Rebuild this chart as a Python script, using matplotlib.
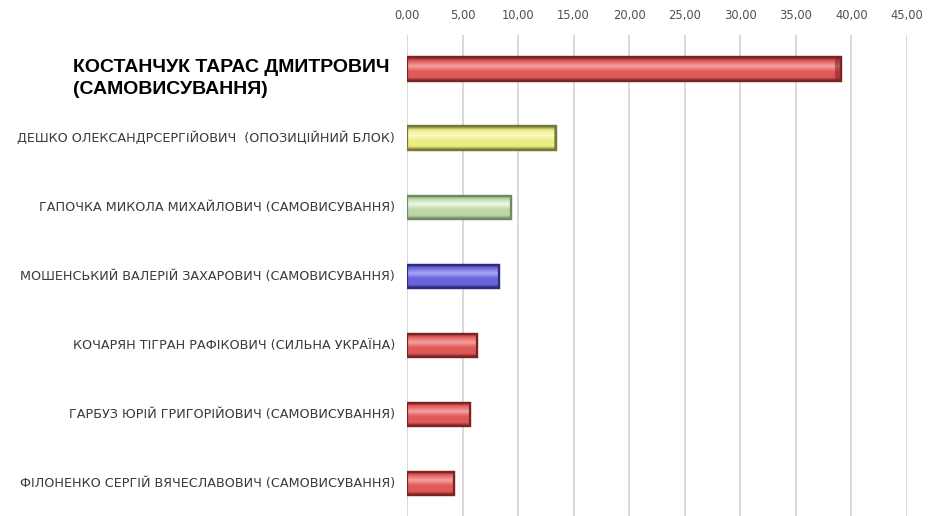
import numpy as np
import matplotlib
matplotlib.use("Agg")
import matplotlib.pyplot as plt
from matplotlib.colors import LinearSegmentedColormap
from matplotlib.ticker import FuncFormatter

# data
candidates = [
    "КОСТАНЧУК ТАРАС ДМИТРОВИЧ\n(САМОВИСУВАННЯ)",
    "ДЕШКО ОЛЕКСАНДРСЕРГІЙОВИЧ  (ОПОЗИЦІЙНИЙ БЛОК)",
    "ГАПОЧКА МИКОЛА МИХАЙЛОВИЧ (САМОВИСУВАННЯ)",
    "МОШЕНСЬКИЙ ВАЛЕРІЙ ЗАХАРОВИЧ (САМОВИСУВАННЯ)",
    "КОЧАРЯН ТІГРАН РАФІКОВИЧ (СИЛЬНА УКРАЇНА)",
    "ГАРБУЗ ЮРІЙ ГРИГОРІЙОВИЧ (САМОВИСУВАННЯ)",
    "ФІЛОНЕНКО СЕРГІЙ ВЯЧЕСЛАВОВИЧ (САМОВИСУВАННЯ)",
]
percent = [39.1, 13.4, 9.4, 8.3, 6.3, 5.7, 4.2]
x_ticks = [0, 5, 10, 15, 20, 25, 30, 35, 40, 45]

# (edge, base, highlight) per bar
bar_styles = [
    ("#7a2424", "#e05a5a", "#f7a0a0"),
    ("#77773a", "#ecec82", "#fbfbc8"),
    ("#6f8a60", "#bcd8a8", "#eef8e4"),
    ("#2c2c7a", "#6b64dc", "#aaa6f4"),
    ("#7a2424", "#e05a5a", "#f7a0a0"),
    ("#7a2424", "#e05a5a", "#f7a0a0"),
    ("#7a2424", "#e05a5a", "#f7a0a0"),
]

plt.rcParams["font.family"] = ["DejaVu Sans"]

fig = plt.figure(figsize=(9.38, 5.16), dpi=100)
ax = fig.add_axes([0.4339, -0.004, 0.533, 0.937])

ypos = np.arange(len(candidates))
bar_h = 0.34
bars = ax.barh(ypos, percent, height=bar_h, zorder=3)

for rect, (edge, base, hi) in zip(bars, bar_styles):
    rect.set_facecolor(base)
    rect.set_edgecolor(edge)
    rect.set_linewidth(1.6)
    cmap = LinearSegmentedColormap.from_list(
        "g", [(0.0, edge), (0.15, base), (0.38, hi), (0.6, base), (0.85, base), (1.0, edge)]
    )
    x0, y0 = rect.get_x(), rect.get_y()
    w, h = rect.get_width(), rect.get_height()
    grad = np.linspace(0, 1, 64).reshape(-1, 1)
    im = ax.imshow(grad, cmap=cmap, aspect="auto", extent=(x0, x0 + w, y0 + h, y0),
                   zorder=3, interpolation="bilinear")
    im.set_clip_path(rect)
    # darker bevel at the bar end
    ax.barh(rect.get_y() + h / 2, w * 0.015, left=x0 + w * 0.985, height=h,
            color=edge, alpha=0.55, zorder=4, linewidth=0)
    ax.add_patch(plt.Rectangle((x0, y0), w, h, fill=False, edgecolor=edge,
                               linewidth=1.6, zorder=5))

ax.set_xlim(0, 45)
ax.set_ylim(len(candidates) - 0.5, -0.5)
ax.set_xticks(x_ticks)
ax.xaxis.set_major_formatter(FuncFormatter(lambda v, p: f"{v:.2f}".replace(".", ",")))
ax.xaxis.tick_top()
ax.tick_params(axis="x", length=0, pad=9, labelsize=8.3, labelcolor="#505050")
ax.grid(axis="x", color="#d9d9d9", linewidth=1.4, zorder=0)
ax.set_axisbelow(True)
for s in ax.spines.values():
    s.set_visible(False)

ax.set_yticks(ypos)
ax.set_yticklabels([""] * len(candidates))
ax.tick_params(axis="y", length=0)

for i, name in enumerate(candidates):
    if i == 0:
        ax.annotate(name, xy=(0, i), xycoords=("axes fraction", "data"),
                    xytext=(-334, -9), textcoords="offset pixels",
                    ha="left", va="center", fontsize=14, fontweight="bold",
                    color="black", family=["Liberation Sans", "DejaVu Sans"],
                    linespacing=1.4)
    else:
        ax.annotate(name, xy=(0, i), xycoords=("axes fraction", "data"),
                    xytext=(-12, 0), textcoords="offset pixels",
                    ha="right", va="center", fontsize=9.2, color="#3a3a3a")

fig.savefig("out.png", dpi=100)
